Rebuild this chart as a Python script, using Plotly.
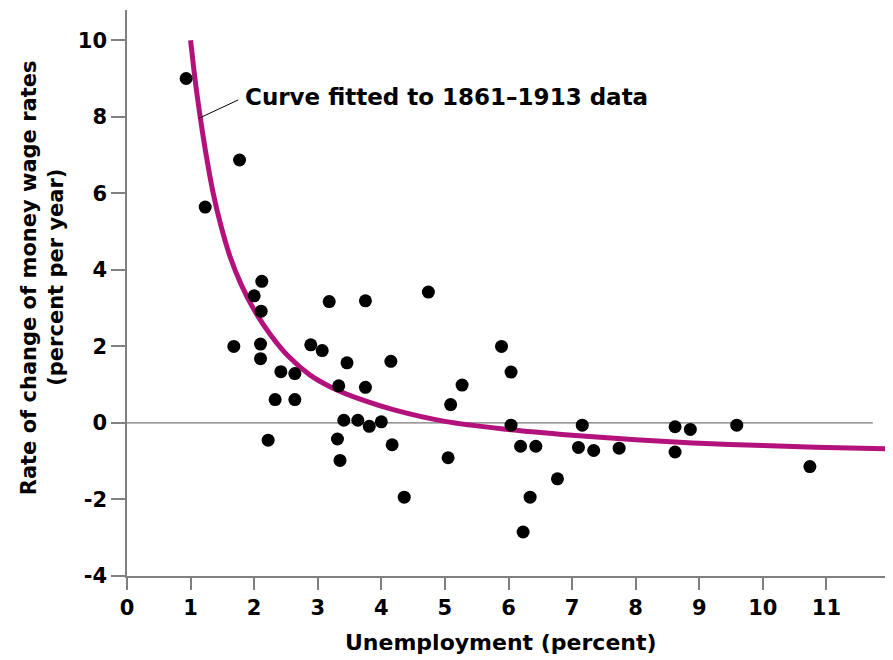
import plotly.graph_objects as go

# Observed data points (unemployment %, wage change %)
unemp = [0.93, 1.23, 1.77, 2.12, 2.00, 2.11, 3.18, 3.75, 4.74,
         1.68, 2.10, 2.10, 2.42, 2.64, 2.33, 2.64, 2.22, 2.89, 3.07,
         3.46, 4.15, 3.33, 3.75, 3.41, 3.63, 3.81, 4.00, 3.31, 3.35,
         4.17, 4.36, 5.09, 5.05,
         5.27, 5.89, 6.04, 6.04, 6.19, 6.43, 6.77, 6.34, 6.23, 7.16,
         7.10, 7.34, 7.74, 8.62, 8.86, 8.62, 9.59, 10.74]
wage = [9.0, 5.64, 6.87, 3.70, 3.32, 2.92, 3.17, 3.19, 3.42,
        2.00, 2.06, 1.68, 1.34, 1.29, 0.61, 0.61, -0.45, 2.04, 1.89,
        1.57, 1.61, 0.97, 0.93, 0.07, 0.07, -0.09, 0.03, -0.42, -0.98,
        -0.57, -1.94, 0.48, -0.91,
        0.99, 2.00, 1.33, -0.06, -0.61, -0.61, -1.46, -1.94, -2.85, -0.06,
        -0.64, -0.72, -0.66, -0.10, -0.17, -0.76, -0.06, -1.14]

# Fitted curve
curve_x = [1.0, 1.08, 1.16, 1.25, 1.35, 1.47, 1.62, 1.8, 2.0, 2.25, 2.55, 2.88,
           3.25, 3.7, 4.2, 5.0, 6.0, 7.0, 8.0, 9.0, 10.0, 11.0, 12.0]
curve_y = [10.0, 8.85, 7.9, 6.95, 6.05, 5.2, 4.35, 3.6, 2.95, 2.32, 1.72, 1.25,
           0.9, 0.6, 0.34, 0.04, -0.17, -0.32, -0.44, -0.53, -0.59, -0.64, -0.68]

x_ticks = list(range(0, 12))
y_ticks = [-4, -2, 0, 2, 4, 6, 8, 10]

FONT = "DejaVu Sans"
MAGENTA = "#b3127c"
AXIS = "#808080"

fig = go.Figure()
fig.add_trace(go.Scatter(x=curve_x, y=curve_y, mode="lines",
                         line=dict(color=MAGENTA, width=5, shape="spline", smoothing=1.0),
                         hoverinfo="skip", showlegend=False))
fig.add_trace(go.Scatter(x=unemp, y=wage, mode="markers",
                         marker=dict(color="black", size=13),
                         showlegend=False))

# zero line
fig.add_shape(type="line", x0=0, x1=11.73, y0=0, y1=0,
              line=dict(color="#555555", width=1), layer="below")
# leader line for label
fig.add_shape(type="line", x0=1.13, y0=7.96, x1=1.75, y1=8.44,
              line=dict(color="black", width=1))

fig.add_annotation(x=1.83, y=8.52, xref="x", yref="y", text="Curve fitted to 1861–1913 data",
                   showarrow=False, xanchor="left", yanchor="middle",
                   font=dict(family=FONT, size=23, color="black", weight="bold"))

fig.add_annotation(x=-0.129, y=0.527, xref="paper", yref="paper",
                   text="Rate of change of money wage rates", textangle=-90,
                   showarrow=False, xanchor="center", yanchor="middle",
                   font=dict(family=FONT, size=21, color="black", weight="bold"))
fig.add_annotation(x=-0.093, y=0.527, xref="paper", yref="paper",
                   text="(percent per year)", textangle=-90,
                   showarrow=False, xanchor="center", yanchor="middle",
                   font=dict(family=FONT, size=21, color="black", weight="bold"))
fig.add_annotation(x=0.49, y=-0.118, xref="paper", yref="paper",
                   text="Unemployment (percent)",
                   showarrow=False, xanchor="center", yanchor="middle",
                   font=dict(family=FONT, size=22, color="black", weight="bold"))

fig.update_xaxes(range=[0, 12.0], tickvals=x_ticks, ticktext=[str(v) for v in x_ticks],
                 showgrid=False, zeroline=False, showline=True, linecolor=AXIS, linewidth=1.5,
                 ticks="outside", ticklen=12, tickcolor=AXIS, tickwidth=1.5,
                 tickfont=dict(family=FONT, size=21, color="black", weight="bold"))
fig.update_yaxes(range=[-4, 10.79], tickvals=y_ticks, ticktext=[str(v) for v in y_ticks],
                 showgrid=False, zeroline=False, showline=True, linecolor=AXIS, linewidth=1.5,
                 ticks="outside", ticklen=14, tickcolor=AXIS, tickwidth=1.5,
                 tickfont=dict(family=FONT, size=21, color="black", weight="bold"))

# page body adds an 8px offset; margins compensate so the plot area lands where the reference has it
fig.update_layout(width=893, height=660, margin=dict(l=119, r=11, t=2, b=92, autoexpand=False),
                  plot_bgcolor="white", paper_bgcolor="white")

fig.write_html("out.html")
